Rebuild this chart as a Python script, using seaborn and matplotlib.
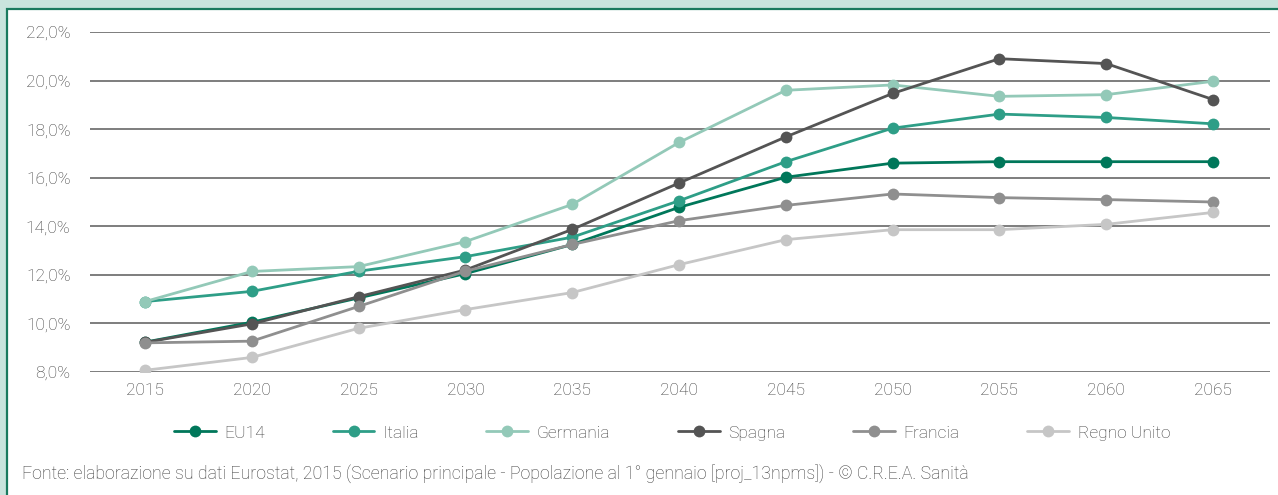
import matplotlib
matplotlib.use("Agg")
import matplotlib.pyplot as plt
from matplotlib.patches import Rectangle
from matplotlib.ticker import FuncFormatter
import seaborn as sns
import pandas as pd

years = [2015, 2020, 2025, 2030, 2035, 2040, 2045, 2050, 2055, 2060, 2065]
eu14 = [9.23, 10.05, 11.05, 12.05, 13.25, 14.78, 16.02, 16.6, 16.66, 16.66, 16.66]
italia = [10.9, 11.32, 12.15, 12.75, 13.55, 15.05, 16.66, 18.04, 18.62, 18.48, 18.22]
germania = [10.9, 12.14, 12.34, 13.37, 14.9, 17.45, 19.6, 19.82, 19.35, 19.42, 19.97]
spagna = [9.22, 9.98, 11.1, 12.2, 13.87, 15.78, 17.68, 19.47, 20.9, 20.7, 19.22]
francia = [9.2, 9.27, 10.7, 12.15, 13.25, 14.23, 14.86, 15.33, 15.18, 15.1, 15.0]
regno_unito = [8.07, 8.6, 9.8, 10.57, 11.27, 12.42, 13.45, 13.86, 13.86, 14.08, 14.57]

series_names = ["EU14", "Italia", "Germania", "Spagna", "Francia", "Regno Unito"]
series_values = [eu14, italia, germania, spagna, francia, regno_unito]
colors = ["#00775a", "#2e9e87", "#93c9b8", "#545454", "#8f8f8f", "#c6c6c6"]
yticks = [8, 10, 12, 14, 16, 18, 20, 22]
footer = "Fonte: elaborazione su dati Eurostat, 2015 (Scenario principale - Popolazione al 1° gennaio [proj_13npms]) - © C.R.E.A. Sanità"

rows = []
for name, vals in zip(series_names, series_values):
    for y, v in zip(years, vals):
        rows.append({"Anno": y, "Valore": v, "Serie": name})
df = pd.DataFrame(rows)

sns.set_style("white")
plt.rcParams["font.family"] = ["Roboto", "DejaVu Sans"]
plt.rcParams["font.weight"] = "light"
txt = "#3c3c3c"

W, H = 1278, 495
fig = plt.figure(figsize=(W / 100, H / 100), dpi=100)
fig.patch.set_facecolor("#c9e4dd")
fig.patches.append(Rectangle((7 / W, -0.05), 1.1, 1 - 9 / H + 0.05, transform=fig.transFigure,
                             facecolor="white", edgecolor="#1a7a5e", linewidth=1.6, zorder=-5))

ax = fig.add_axes([90 / W, 1 - 372 / H, (1270 - 90) / W, (372 - 32) / H])
ax.set_facecolor("none")
ax.set_zorder(2)

sns.lineplot(data=df, x="Anno", y="Valore", hue="Serie", hue_order=series_names,
             palette=colors, marker="o", markersize=8.5, markeredgewidth=0,
             linewidth=2, ax=ax, legend=False, zorder=3)

ax.set_ylim(8, 22)
ax.set_xlim(2015 - 55 / 21.36, 2065 + 57 / 21.36)
ax.set_yticks(yticks)
ax.set_xticks(years)
ax.yaxis.set_major_formatter(FuncFormatter(lambda v, p: f"{v:.1f}%".replace(".", ",")))
ax.grid(axis="y", color="#5a5a5a", linewidth=1.1)
ax.grid(axis="x", visible=False)
ax.set_axisbelow(True)
for s in ax.spines.values():
    s.set_visible(False)
ax.tick_params(axis="both", length=0, labelsize=12.5, colors=txt)
ax.tick_params(axis="y", pad=14)
ax.tick_params(axis="x", pad=8)
ax.set_xlabel("")
ax.set_ylabel("")

handles = [plt.Line2D([], [], color=c, marker="o", markersize=8.5, markeredgewidth=0, linewidth=2)
           for c in colors]
fig.legend(handles, series_names, loc="center", bbox_to_anchor=(672 / W, 1 - 433 / H), ncol=6,
           frameon=False, fontsize=12.5, labelcolor=txt, handlelength=2.4,
           columnspacing=3.9, handletextpad=0.5)

fig.text(22 / W, 1 - 475 / H, footer, fontsize=12.8, color=txt, va="center", ha="left")

fig.savefig("out.png", dpi=100, facecolor=fig.get_facecolor())
